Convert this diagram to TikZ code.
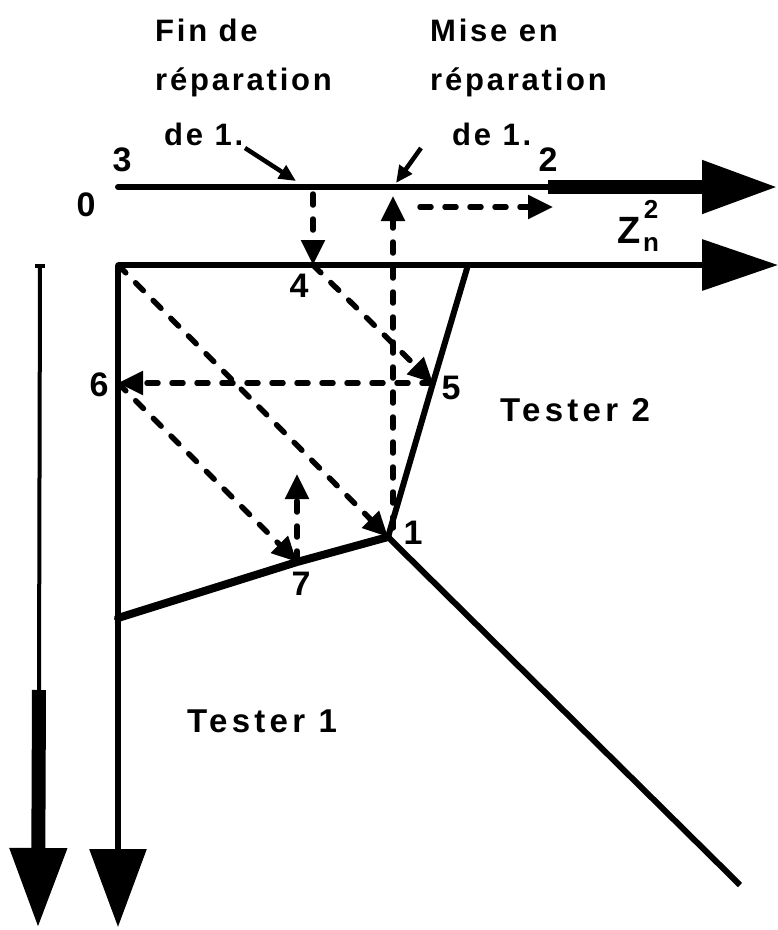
\documentclass[tikz,border=0pt]{standalone}
\usepackage{fontspec}
\setmainfont{Liberation Sans}
\usetikzlibrary{arrows.meta,calc}
\begin{document}
\begin{tikzpicture}[x=1pt,y=-1pt,
  solidline/.style={line width=6pt},
  dasharrow/.style={line width=5.5pt, line cap=round, dash pattern=on 11pt off 14pt, -{Triangle[length=25pt,width=23pt]}},
  notearrow/.style={line width=4.5pt, -{Triangle[length=17pt,width=15pt]}},
  bigtip/.style={-{Triangle[length=76pt,width=50pt]}},
  lab/.style={font=\fontsize{34}{34}\selectfont\bfseries, inner sep=0pt},
  tester/.style={font=\fontsize{33}{33}\selectfont\bfseries\addfontfeatures{LetterSpace=13}, inner sep=0pt, anchor=west},
  title/.style={font=\fontsize{31}{40}\selectfont\bfseries\addfontfeatures{LetterSpace=9}, inner sep=0pt, anchor=west},
]
\useasboundingbox (0,0) rectangle (778,930);
% coordinates
\coordinate (O) at (118,265);
\coordinate (P3) at (118,187);
\coordinate (P2) at (548,187);
\coordinate (TopTip) at (778,187);
\coordinate (ZTip) at (778,265);
\coordinate (VTip) at (118,927);
\coordinate (LTop) at (40,266);
\coordinate (LTopL) at (35,266);
\coordinate (LTopR) at (45,266);
\coordinate (LMid) at (39,690);
\coordinate (LTip) at (38,928);
\coordinate (P4) at (313,265);
\coordinate (P5) at (433,383);
\coordinate (P6) at (118,383);
\coordinate (P1) at (388,537);
\coordinate (P7) at (297,562);
\coordinate (Q) at (118,618);
\coordinate (T) at (468,265);
\coordinate (E) at (740,885);
\coordinate (F4) at (313,194);
\coordinate (V1) at (393,528);
\coordinate (V1top) at (393,196);
\coordinate (H1) at (420,207);
\coordinate (H2) at (553,207);
\coordinate (U7) at (297,474);
\coordinate (A1) at (245,148);
\coordinate (A1t) at (296,181);
\coordinate (A2) at (421,148);
\coordinate (A2t) at (396,183);

% axes
\draw[solidline, line cap=round] (P3) -- (P2);
\draw[line width=14pt, bigtip] (P2) -- (TopTip);
\draw[line width=6.5pt, bigtip] (O) -- (ZTip);
\draw[line width=6pt, -{Triangle[length=78pt,width=56pt]}] (O) -- (VTip);
\draw[line width=4pt] (LTop) -- (LMid);
\draw[line width=3.5pt] (LTopL) -- (LTopR);
\draw[line width=14pt, -{Triangle[length=80pt,width=54pt]}] (LMid) -- (LTip);

% boundaries
\draw[solidline, line join=round] (T) -- (P5) -- (P1) -- (E);
\draw[line width=8pt, line cap=round] (Q) -- (P7) -- (P1);

% dashed arrows
\draw[dasharrow] (O) -- (P1);
\draw[dasharrow] (P4) -- (P5);
\draw[dasharrow] (P5) -- (P6);
\draw[dasharrow] (P6) -- (P7);
\draw[dasharrow] (P7) -- (U7);
\draw[dasharrow] (V1) -- (V1top);
\draw[dasharrow] (H1) -- (H2);
\draw[dasharrow] (F4) -- (P4);

% annotation arrows
\draw[notearrow] (A1) -- (A1t);
\draw[notearrow] (A2) -- (A2t);

% labels
\node[lab] (l0) at (86,205) {0};
\node[lab] (l3) at (122,160) {3};
\node[lab] (l2) at (548,160) {2};
\node[lab, font=\fontsize{38}{38}\selectfont\bfseries] (lz) at (629,230) {Z};
\node[lab, font=\fontsize{26}{26}\selectfont\bfseries] (lz2) at (651,209) {2};
\node[lab, font=\fontsize{26}{26}\selectfont\bfseries] (lzn) at (651,244) {n};
\node[lab] (l4) at (299,286) {4};
\node[lab] (l5) at (451,388) {5};
\node[lab] (l6) at (99,385) {6};
\node[lab] (l1) at (413,533) {1};
\node[lab] (l7) at (301,584) {7};
\node[tester] (t2) at (500,410) {Tester 2};
\node[tester] (t1) at (187,721) {Tester 1};

\node[title] (f1) at (155,30) {Fin de};
\node[title] (f2) at (155,82) {réparation};
\node[title] (f3) at (164,134) {de 1.};
\node[title] (m1) at (430,30) {Mise en};
\node[title] (m2) at (430,82) {réparation};
\node[title] (m3) at (452,134) {de 1.};
\end{tikzpicture}
\end{document}
